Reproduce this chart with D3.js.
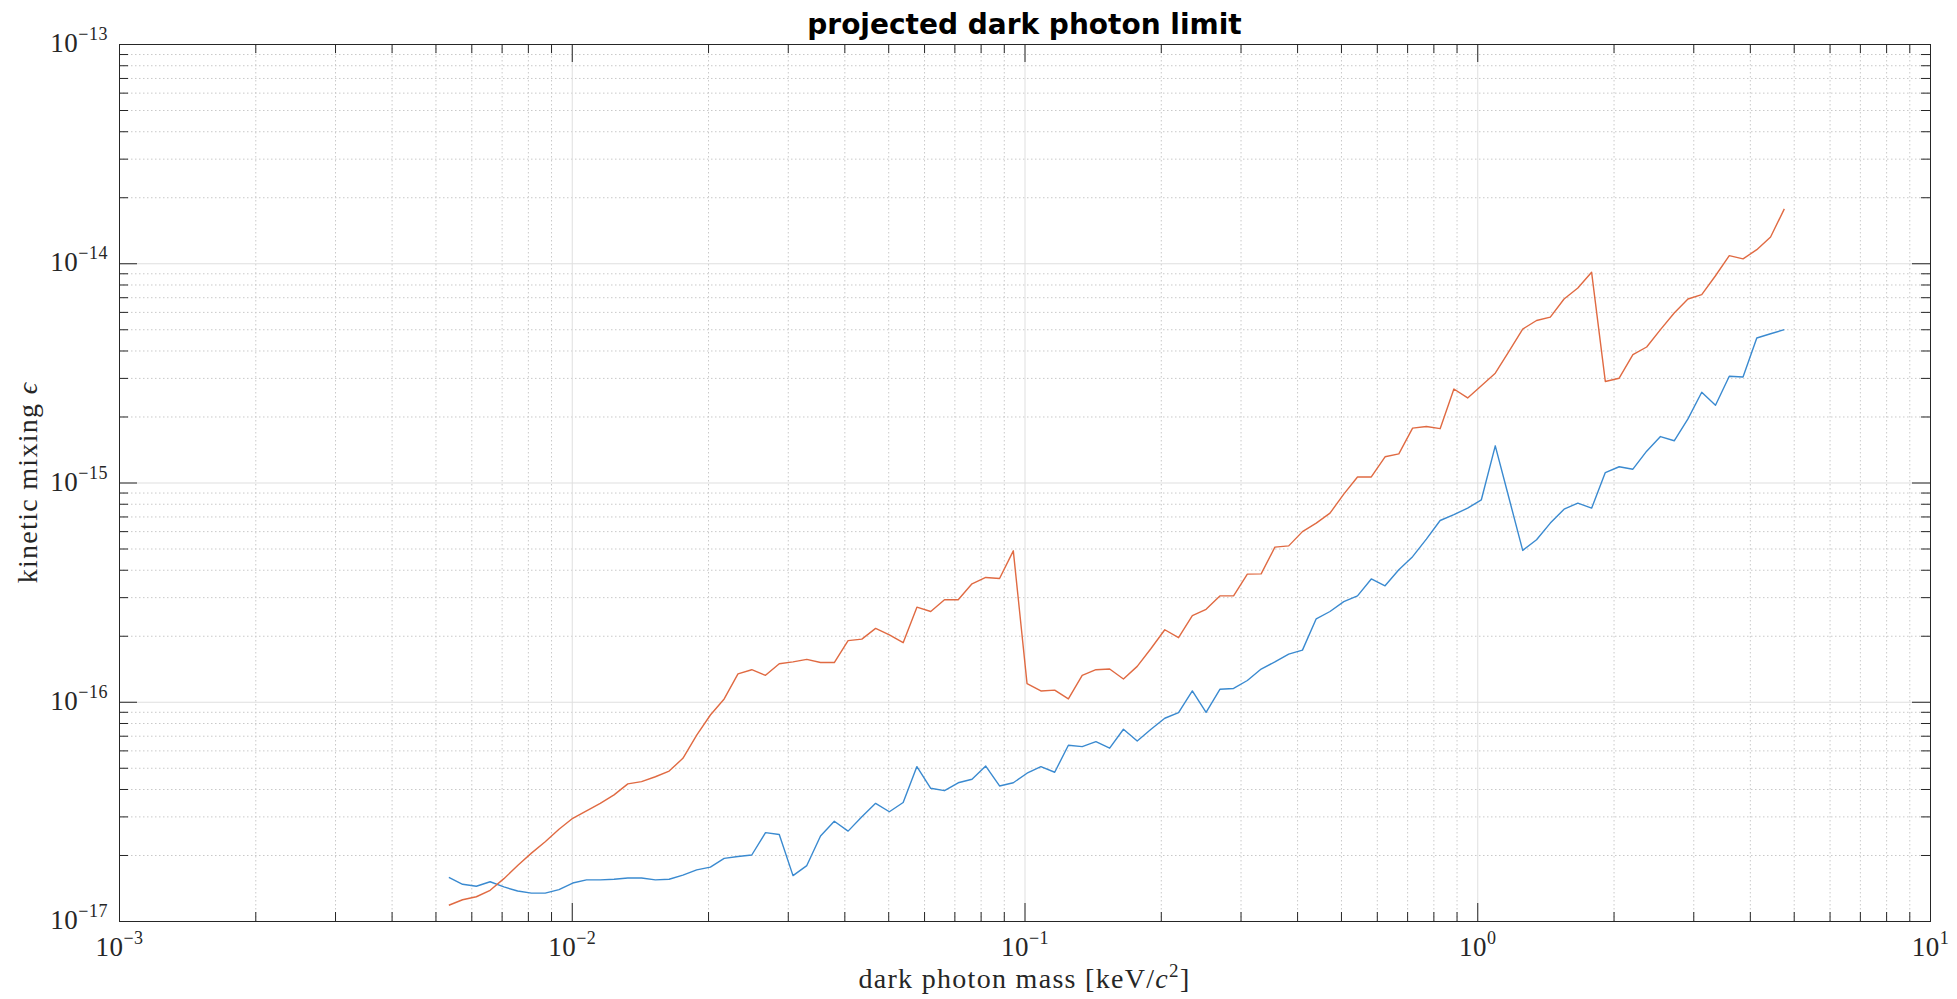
<!DOCTYPE html>
<meta charset="utf-8">
<style>
  body {
    margin: 0;
    background: #fff;
  }

  text {
    font-family: "Liberation Serif", "DejaVu Serif", serif;
    fill: #262626;
  }

  .title {
    font-family: "DejaVu Sans", sans-serif;
    font-weight: bold;
    font-size: 28px;
    fill: #000;
  }

  .tick-label { font-size: 27px; letter-spacing: 0.5px; }
  .axis-label { font-size: 28px; letter-spacing: 1.3px; }

  .grid-major line { stroke: #dfdfdf; stroke-width: 1; }
  .grid-minor line { stroke: #c9c9c9; stroke-width: 1; stroke-dasharray: 1.5,2.5; }

  .series {
    fill: none;
    stroke-width: 1.4;
    stroke-linejoin: round;
  }
</style>
<body>
<script src="https://d3js.org/d3.v7.min.js"></script>
<script>

// dark photon mass [keV]
var massKeV = [
  0.005352, 0.005740, 0.006156, 0.006603, 0.007082, 0.007595, 0.008146, 0.008737, 0.009371, 0.01005,
  0.01078, 0.01156, 0.01240, 0.01330, 0.01426, 0.01530, 0.01641, 0.01760, 0.01888, 0.02024,
  0.02171, 0.02329, 0.02498, 0.02679, 0.02873, 0.03081, 0.03305, 0.03544, 0.03801, 0.04077,
  0.04373, 0.04690, 0.05030, 0.05395, 0.05786, 0.06207, 0.06657, 0.07138, 0.07657, 0.08211,
  0.08808, 0.09447, 0.1013, 0.1087, 0.1166, 0.1250, 0.1341, 0.1438, 0.1542, 0.1654,
  0.1774, 0.1903, 0.2041, 0.2189, 0.2348, 0.2518, 0.2701, 0.2896, 0.3106, 0.3332,
  0.3573, 0.3833, 0.4111, 0.4409, 0.4729, 0.5072, 0.5439, 0.5834, 0.6257, 0.6711,
  0.7198, 0.7720, 0.8280, 0.8880, 0.9524, 1.021, 1.096, 1.175, 1.260, 1.352,
  1.450, 1.555, 1.668, 1.789, 1.918, 2.058, 2.207, 2.367, 2.539, 2.723,
  2.920, 3.132, 3.359, 3.603, 3.864, 4.144, 4.445, 4.767
];

// kinetic mixing limit, first curve (blue)
var limitBlue = [
  1.58e-17, 1.47e-17, 1.44e-17, 1.51e-17, 1.43e-17, 1.37e-17, 1.34e-17, 1.34e-17, 1.39e-17, 1.49e-17,
  1.54e-17, 1.54e-17, 1.55e-17, 1.57e-17, 1.57e-17, 1.54e-17, 1.55e-17, 1.62e-17, 1.71e-17, 1.76e-17,
  1.93e-17, 1.97e-17, 2.00e-17, 2.53e-17, 2.48e-17, 1.61e-17, 1.79e-17, 2.44e-17, 2.85e-17, 2.57e-17,
  2.99e-17, 3.44e-17, 3.15e-17, 3.47e-17, 5.06e-17, 4.03e-17, 3.93e-17, 4.27e-17, 4.43e-17, 5.09e-17,
  4.13e-17, 4.27e-17, 4.72e-17, 5.06e-17, 4.77e-17, 6.33e-17, 6.24e-17, 6.58e-17, 6.14e-17, 7.49e-17,
  6.62e-17, 7.49e-17, 8.41e-17, 8.92e-17, 1.12e-16, 8.95e-17, 1.14e-16, 1.15e-16, 1.25e-16, 1.41e-16,
  1.52e-16, 1.65e-16, 1.72e-16, 2.39e-16, 2.58e-16, 2.86e-16, 3.04e-16, 3.63e-16, 3.38e-16, 4.00e-16,
  4.59e-16, 5.52e-16, 6.71e-16, 7.13e-16, 7.64e-16, 8.34e-16, 1.47e-15, 8.50e-16, 4.90e-16, 5.48e-16,
  6.53e-16, 7.56e-16, 8.05e-16, 7.64e-16, 1.11e-15, 1.18e-15, 1.15e-15, 1.39e-15, 1.62e-15, 1.55e-15,
  1.95e-15, 2.58e-15, 2.25e-15, 3.05e-15, 3.03e-15, 4.56e-15, 4.77e-15, 4.98e-15
];

// kinetic mixing limit, second curve (orange)
var limitOrange = [
  1.18e-17, 1.25e-17, 1.29e-17, 1.38e-17, 1.56e-17, 1.79e-17, 2.04e-17, 2.30e-17, 2.62e-17, 2.94e-17,
  3.18e-17, 3.44e-17, 3.76e-17, 4.22e-17, 4.32e-17, 4.55e-17, 4.83e-17, 5.52e-17, 7.05e-17, 8.70e-17,
  1.03e-16, 1.34e-16, 1.40e-16, 1.32e-16, 1.49e-16, 1.52e-16, 1.56e-16, 1.51e-16, 1.51e-16, 1.90e-16,
  1.93e-16, 2.16e-16, 2.02e-16, 1.86e-16, 2.70e-16, 2.58e-16, 2.92e-16, 2.92e-16, 3.45e-16, 3.69e-16,
  3.65e-16, 4.88e-16, 1.21e-16, 1.12e-16, 1.13e-16, 1.03e-16, 1.32e-16, 1.40e-16, 1.41e-16, 1.27e-16,
  1.45e-16, 1.75e-16, 2.13e-16, 1.96e-16, 2.47e-16, 2.64e-16, 3.04e-16, 3.04e-16, 3.82e-16, 3.83e-16,
  5.07e-16, 5.14e-16, 5.97e-16, 6.53e-16, 7.25e-16, 8.85e-16, 1.06e-15, 1.06e-15, 1.31e-15, 1.35e-15,
  1.77e-15, 1.80e-15, 1.76e-15, 2.67e-15, 2.43e-15, 2.76e-15, 3.15e-15, 3.96e-15, 5.01e-15, 5.48e-15,
  5.68e-15, 6.87e-15, 7.71e-15, 9.09e-15, 2.89e-15, 2.99e-15, 3.83e-15, 4.15e-15, 4.98e-15, 5.93e-15,
  6.87e-15, 7.19e-15, 8.77e-15, 1.083e-14, 1.047e-14, 1.153e-14, 1.318e-14, 1.77e-14
];

var xDecades = [1e-3, 1e-2, 1e-1, 1, 10];
var xExponents = ["\u22123", "\u22122", "\u22121", "0", "1"];
var yDecades = [1e-17, 1e-16, 1e-15, 1e-14, 1e-13];
var yExponents = ["\u221217", "\u221216", "\u221215", "\u221214", "\u221213"];

// plot box (window.top is read-only, so no bare "top" here)
var width = 1957,
    height = 999,
    plotLeft = 119, plotRight = 1930,
    plotTop = 44, plotBottom = 921;

var axisColor = "#262626";

var x = d3.scaleLog()
    .domain([1e-3, 10])
    .range([plotLeft, plotRight]);

var y = d3.scaleLog()
    .domain([1e-17, 1e-13])
    .range([plotBottom, plotTop]);

function isDecade(d) {
  var l = Math.log10(d);
  return Math.abs(l - Math.round(l)) < 1e-6;
}

var xMinor = x.ticks().filter(function(d) { return !isDecade(d); });
var yMinor = y.ticks().filter(function(d) { return !isDecade(d); });

var svg = d3.select("body").append("svg")
    .attr("width", width)
    .attr("height", height);

// grid
var gMinor = svg.append("g").attr("class", "grid-minor");
gMinor.selectAll("line.v").data(xMinor).join("line").attr("class", "v")
    .attr("x1", function(d) { return x(d) + 0.5; })
    .attr("x2", function(d) { return x(d) + 0.5; })
    .attr("y1", plotTop).attr("y2", plotBottom);
gMinor.selectAll("line.h").data(yMinor).join("line").attr("class", "h")
    .attr("x1", plotLeft).attr("x2", plotRight)
    .attr("y1", function(d) { return y(d) + 0.5; })
    .attr("y2", function(d) { return y(d) + 0.5; });

var gMajor = svg.append("g").attr("class", "grid-major");
gMajor.selectAll("line.v").data(xDecades.slice(1, -1)).join("line").attr("class", "v")
    .attr("x1", function(d) { return x(d) + 0.5; })
    .attr("x2", function(d) { return x(d) + 0.5; })
    .attr("y1", plotTop).attr("y2", plotBottom);
gMajor.selectAll("line.h").data(yDecades.slice(1, -1)).join("line").attr("class", "h")
    .attr("x1", plotLeft).attr("x2", plotRight)
    .attr("y1", function(d) { return y(d) + 0.5; })
    .attr("y2", function(d) { return y(d) + 0.5; });

// curves
var line = d3.line()
    .x(function(d) { return x(d[0]); })
    .y(function(d) { return y(d[1]); });

svg.append("path")
    .attr("class", "series")
    .attr("stroke", "#3a8ad0")
    .attr("d", line(d3.zip(massKeV, limitBlue)));

svg.append("path")
    .attr("class", "series")
    .attr("stroke", "#e06a42")
    .attr("d", line(d3.zip(massKeV, limitOrange)));

// ticks on all four sides, pointing inward
function addTicks(axisFn, scale, values, size, transform) {
  var g = svg.append("g")
      .attr("transform", transform)
      .attr("color", axisColor)
      .call(axisFn(scale).tickValues(values).tickSize(-size).tickFormat(""));
  g.select(".domain").remove();
  g.selectAll("line").attr("stroke-width", 1);
}

addTicks(d3.axisBottom, x, xMinor, 9, "translate(0," + plotBottom + ")");
addTicks(d3.axisBottom, x, xDecades, 18, "translate(0," + plotBottom + ")");
addTicks(d3.axisTop, x, xMinor, 9, "translate(0," + plotTop + ")");
addTicks(d3.axisTop, x, xDecades, 18, "translate(0," + plotTop + ")");
addTicks(d3.axisLeft, y, yMinor, 9, "translate(" + plotLeft + ",0)");
addTicks(d3.axisLeft, y, yDecades, 18, "translate(" + plotLeft + ",0)");
addTicks(d3.axisRight, y, yMinor, 9, "translate(" + plotRight + ",0)");
addTicks(d3.axisRight, y, yDecades, 18, "translate(" + plotRight + ",0)");

// box
svg.append("rect")
    .attr("x", plotLeft + 0.5)
    .attr("y", plotTop + 0.5)
    .attr("width", plotRight - plotLeft)
    .attr("height", plotBottom - plotTop)
    .attr("fill", "none")
    .attr("stroke", axisColor)
    .attr("stroke-width", 1);

// tick labels, 10^n
var xLab = svg.append("g").selectAll("text").data(xDecades).join("text")
    .attr("class", "tick-label")
    .attr("x", function(d) { return x(d) + 0.5; })
    .attr("y", plotBottom + 35)
    .attr("text-anchor", "middle");
xLab.append("tspan").text("10");
xLab.append("tspan").attr("dy", -12).attr("font-size", 18)
    .text(function(d, i) { return xExponents[i]; });

var yLab = svg.append("g").selectAll("text").data(yDecades).join("text")
    .attr("class", "tick-label")
    .attr("x", plotLeft - 11)
    .attr("y", function(d) { return y(d) + 8; })
    .attr("text-anchor", "end");
yLab.append("tspan").text("10");
yLab.append("tspan").attr("dy", -12).attr("font-size", 18)
    .text(function(d, i) { return yExponents[i]; });

// axis labels
var xTitle = svg.append("text")
    .attr("class", "axis-label")
    .attr("x", (plotLeft + plotRight) / 2)
    .attr("y", 988)
    .attr("text-anchor", "middle");
xTitle.append("tspan").text("dark photon mass [keV/");
xTitle.append("tspan").attr("font-style", "italic").text("c");
xTitle.append("tspan").attr("dy", -11).attr("font-size", 19).text("2");
xTitle.append("tspan").attr("dy", 11).text("]");

var yTitle = svg.append("text")
    .attr("class", "axis-label")
    .attr("transform", "translate(37," + (plotTop + plotBottom) / 2 + ")rotate(-90)")
    .attr("text-anchor", "middle");
yTitle.append("tspan").text("kinetic mixing ");
yTitle.append("tspan").attr("font-style", "italic").text("\u03f5");

svg.append("text")
    .attr("class", "title")
    .attr("x", (plotLeft + plotRight) / 2)
    .attr("y", 34)
    .attr("text-anchor", "middle")
    .text("projected dark photon limit");

</script>
</body>
